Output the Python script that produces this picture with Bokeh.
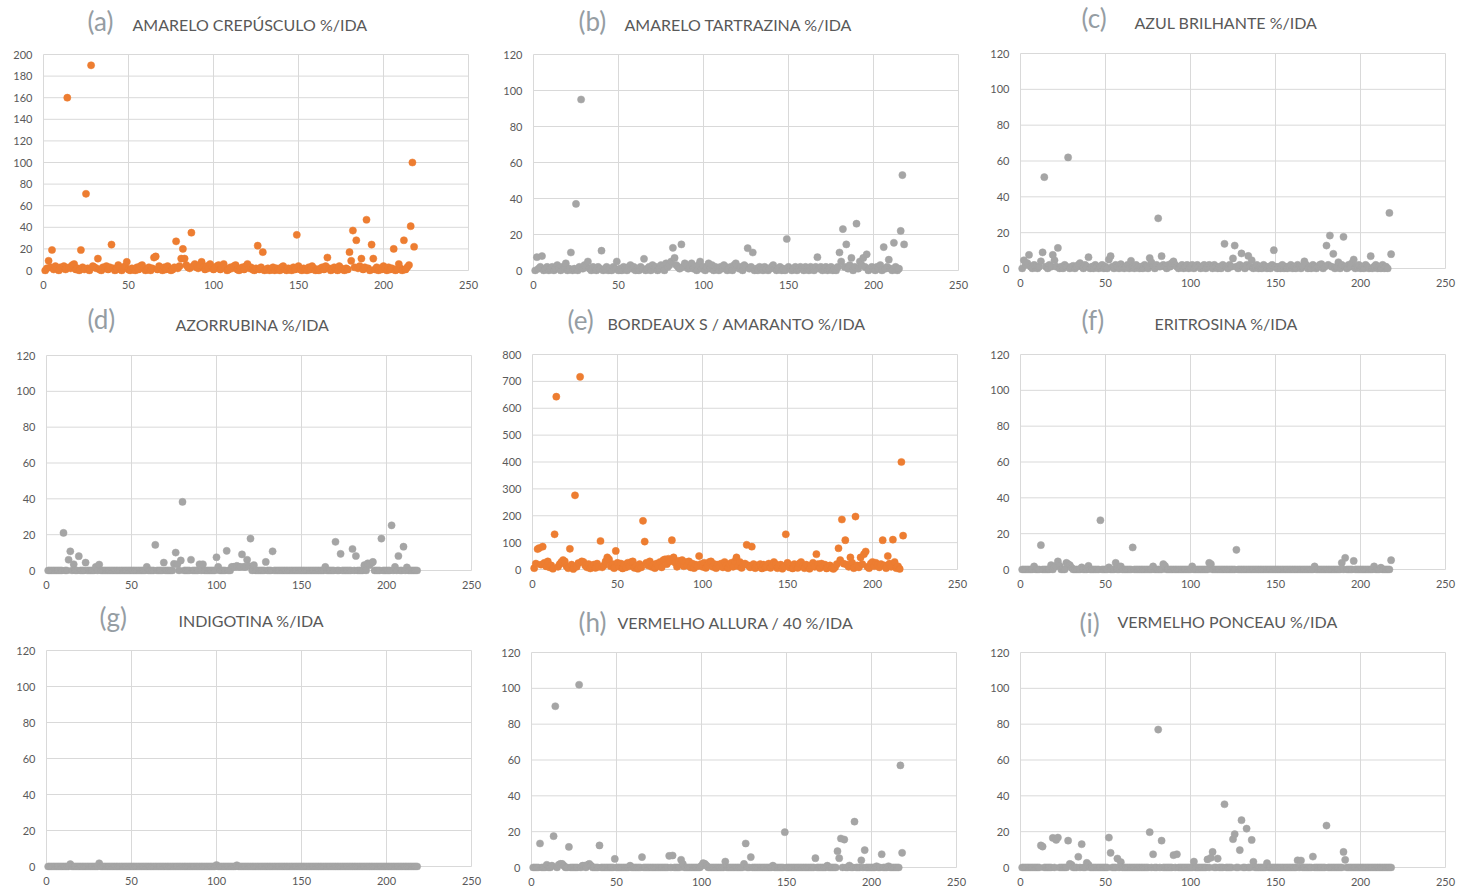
from bokeh.plotting import figure
from bokeh.layouts import column, row
from bokeh.models import Range1d, FixedTicker, Label
from bokeh.embed import file_html
from bokeh.resources import INLINE

# ---------------- data ----------------
panel_letters = ["(a)", "(b)", "(c)", "(d)", "(e)", "(f)", "(g)", "(h)", "(i)"]
panel_names = [
    "AMARELO  CREPÚSCULO  %/IDA",
    "AMARELO  TARTRAZINA  %/IDA",
    "AZUL BRILHANTE %/IDA",
    "AZORRUBINA %/IDA",
    "BORDEAUX S / AMARANTO %/IDA",
    "ERITROSINA %/IDA",
    "INDIGOTINA %/IDA",
    "VERMELHO ALLURA / 40 %/IDA",
    "VERMELHO  PONCEAU  %/IDA",
]
y_max = [200, 120, 120, 120, 800, 120, 120, 120, 120]
y_step = [20, 20, 20, 20, 100, 20, 20, 20, 20]
x_ticks = [0, 50, 100, 150, 200, 250]
panel_color_names = ["orange", "gray", "gray", "gray", "orange", "gray", "gray", "gray", "gray"]

amarelo_crepusculo = [
    0, 2, 9, 3, 19, 1, 4, 2, 0, 3,
    2, 4, 1, 160, 3, 2, 5, 6, 1, 2,
    0, 19, 3, 1, 71, 2, 0, 190, 4, 3,
    2, 11, 1, 0, 3, 2, 4, 1, 3, 24,
    2, 0, 1, 5, 3, 0, 2, 4, 8, 1,
    0, 2, 1, 0, 3, 1, 4, 5, 2, 0,
    1, 3, 0, 2, 12, 13, 1, 4, 2, 0,
    3, 1, 4, 2, 0, 1, 3, 27, 2, 4,
    11, 20, 11, 5, 3, 2, 35, 4, 6, 3,
    2, 5, 8, 3, 1, 4, 2, 6, 3, 1,
    2, 4, 5, 1, 3, 6, 2, 0, 1, 3,
    2, 4, 5, 1, 0, 2, 3, 1, 4, 6,
    2, 3, 1, 0, 2, 23, 1, 3, 17, 0,
    1, 2, 0, 1, 3, 0, 2, 1, 0, 3,
    4, 1, 0, 2, 1, 0, 3, 1, 33, 4,
    1, 0, 2, 1, 0, 3, 1, 4, 2, 0,
    1, 0, 2, 3, 1, 4, 12, 2, 0, 1,
    3, 1, 0, 4, 2, 1, 0, 2, 1, 17,
    9, 37, 3, 28, 2, 4, 11, 1, 3, 47,
    2, 0, 24, 11, 1, 3, 0, 2, 1, 4,
    2, 0, 3, 1, 2, 20, 0, 1, 6, 2,
    0, 28, 1, 3, 5, 41, 100, 22,
]

amarelo_tartrazina = [
    0, 7.4, 1, 2, 8, 0, 1, 2, 0, 1,
    2, 0, 1, 3, 1, 0, 2, 1, 4, 0,
    1, 10, 0, 1, 37, 0, 2, 95, 1, 3,
    2, 5, 1, 0, 2, 1, 0, 2, 1, 11,
    0, 1, 2, 0, 1, 0, 2, 1, 5, 0,
    1, 0, 2, 1, 0, 2, 3, 1, 2, 0,
    1, 0, 2, 1, 6.5, 0, 1, 2, 0, 3,
    1, 2, 0, 1, 3, 2, 0, 4, 2, 3,
    5, 12.6, 7, 3, 2, 1, 14.5, 2, 4, 3,
    1, 2, 4, 1, 2, 0, 3, 5, 1, 2,
    0, 2, 4, 1, 3, 0, 2, 1, 0, 2,
    1, 3, 2, 0, 1, 2, 0, 3, 4, 2,
    1, 2, 0, 3, 2, 12.4, 1, 2, 10, 0,
    1, 0, 2, 1, 0, 2, 1, 0, 1, 2,
    3, 1, 0, 1, 2, 0, 1, 0, 17.5, 2,
    1, 0, 1, 2, 0, 1, 2, 1, 0, 2,
    1, 0, 2, 1, 0, 2, 7.4, 1, 2, 0,
    1, 2, 0, 1, 2, 0, 1, 0, 2, 10,
    5, 23, 2, 14.5, 1, 3, 7, 0, 2, 26,
    1, 5, 3, 7, 2, 9, 0, 1, 2, 1,
    0, 2, 1, 3, 0, 13, 1, 2, 6, 1,
    0, 15.4, 2, 0, 1, 22, 53, 14.5,
]

azul_brilhante = [
    0, 4.6, 2, 3, 7.6, 1, 0, 2, 1, 0,
    1, 4, 9, 51, 1, 0, 2, 1, 7.6, 4.6,
    1, 11.5, 0, 1, 0, 2, 1, 62, 0, 1,
    1.5, 0, 1, 2, 3, 1, 0, 2, 1, 6.3,
    0, 1, 0, 2, 1, 0, 1, 2, 0, 1,
    0, 5, 6.9, 1, 0, 2, 1, 0, 2.4, 1,
    0, 1, 2, 0, 4.3, 1, 0, 2, 1, 0,
    1, 0, 2, 1, 0, 5.8, 3.5, 1, 0, 2,
    28, 1, 6.9, 2, 1, 0, 2, 1, 3, 4,
    2, 1, 0, 1, 2, 0, 1, 2, 0, 1,
    2, 0, 1, 2, 1, 0, 1, 2, 0, 1,
    2, 1, 0, 2, 1, 0, 1, 0, 2, 13.8,
    1, 0, 2, 1, 5.6, 12.8, 1, 0, 2, 8.4,
    1, 0, 2, 7, 1, 4.6, 0, 1, 2, 0,
    1, 0, 2, 1, 0, 1, 0, 2, 10.2, 1,
    0, 1, 0, 2, 0, 1, 0, 1, 2, 0,
    1, 0, 2, 1, 0, 1, 4, 2, 0, 1,
    0, 2, 1, 0, 1, 2, 2.4, 0, 1, 12.8,
    2, 18.4, 1, 8.2, 0, 1, 3.5, 0, 2, 17.7,
    1, 0, 2, 1, 3, 5, 0, 1, 2, 0,
    1, 0, 2, 1, 0, 6.9, 0, 1, 2, 0,
    1, 0, 2, 0, 1, 0, 31, 8,
]

azorrubina = [
    0, 0, 0, 0, 0, 0, 0, 0, 0, 21,
    0, 0, 6, 10.7, 0, 3.5, 0, 0, 8, 0,
    0, 0, 4.4, 0, 0, 0, 0, 0, 2, 0,
    3.3, 0, 0, 0, 0, 0, 0, 0, 0, 0,
    0, 0, 0, 0, 0, 0, 0, 0, 0, 0,
    0, 0, 0, 0, 0, 0, 0, 0, 2, 0,
    0, 0, 0, 14.3, 0, 0, 0, 0, 4.4, 0,
    0, 0, 0, 0, 3.7, 10, 3.5, 0, 5.6, 38.3,
    0, 0, 0, 0, 6, 0, 0, 0, 0, 3.5,
    0, 3.5, 0, 0, 0, 0, 0, 0, 0, 7.4,
    2, 0, 0, 0, 0, 11, 0, 0, 2, 2,
    2, 2.6, 2, 2, 9, 2, 2, 6, 2.5, 17.8,
    0, 3, 0, 0, 0, 0, 0, 0, 4.8, 0,
    0, 0, 10.7, 0, 0, 0, 0, 0, 0, 0,
    0, 0, 0, 0, 0, 0, 0, 0, 0, 0,
    0, 0, 0, 0, 0, 0, 0, 0, 0, 0,
    0, 0, 0, 2, 0, 0, 0, 0, 0, 16,
    0, 0, 9.3, 0, 0, 0, 0, 0, 0, 12,
    0, 8.1, 0, 0, 0, 0, 3, 0, 4, 3,
    4, 4.8, 0, 0, 0, 0, 17.8, 0, 0, 0,
    0, 0, 25.2, 0, 2, 0, 8.1, 0, 0, 13.3,
    0, 1.7, 0, 0, 0, 0, 0, 0,
]

bordeaux_amaranto = [
    5, 22, 76, 80, 18, 85, 25, 12, 30, 8,
    15, 3, 131, 643, 10, 20, 28, 35, 30, 12,
    5, 77, 18, 2, 276, 10, 24, 717, 30, 28,
    15, 8, 20, 4, 12, 18, 6, 22, 10, 106,
    8, 15, 30, 45, 38, 12, 20, 5, 69, 25,
    10, 22, 4, 18, 8, 25, 12, 28, 30, 6,
    14, 3, 20, 8, 181, 104, 25, 15, 30, 10,
    18, 5, 22, 12, 28, 8, 35, 38, 20, 40,
    30, 109, 45, 25, 10, 32, 20, 35, 12, 28,
    15, 30, 8, 22, 5, 18, 12, 50, 20, 10,
    25, 6, 15, 28, 30, 10, 20, 5, 18, 12,
    22, 8, 28, 15, 5, 20, 25, 10, 30, 45,
    12, 28, 6, 18, 22, 92, 15, 8, 85, 20,
    5, 15, 10, 20, 4, 18, 8, 12, 22, 6,
    15, 28, 20, 5, 10, 18, 3, 12, 131, 25,
    8, 15, 4, 20, 10, 6, 22, 28, 12, 5,
    18, 8, 3, 15, 25, 10, 57, 20, 5, 22,
    12, 18, 4, 10, 15, 6, 2, 8, 20, 79,
    35, 186, 22, 109, 18, 10, 45, 25, 5, 197,
    15, 8, 45, 20, 57, 67, 10, 5, 22, 28,
    12, 25, 18, 8, 20, 109, 15, 5, 50, 22,
    10, 111, 28, 5, 12, 2, 400, 126,
]

eritrosina = [
    0, 0, 0, 0, 0, 0, 0, 1.7, 0, 0,
    0, 13.6, 0, 0, 0, 0, 0, 2.4, 0, 1.5,
    2, 4.5, 2, 0, 0, 0, 3.7, 3, 2.4, 1,
    0, 0, 0, 0, 0, 1.2, 0, 0, 0, 2,
    0, 0, 0, 0, 0, 0, 27.5, 0, 0, 0,
    0, 1.2, 0, 0, 0, 3.7, 0, 0, 1.7, 0,
    0, 0, 0, 0, 0, 12.3, 0, 0, 0, 0,
    0, 0, 0, 0, 0, 0, 0, 1.7, 0, 0,
    0, 0, 0, 3, 2, 0, 0, 0, 0, 0,
    0, 0, 0, 0, 0, 0, 0, 0, 0, 0,
    1.7, 0, 0, 0, 0, 0, 0, 0, 0, 0,
    3.7, 3, 0, 0, 0, 0, 0, 0, 0, 0,
    0, 0, 0, 0, 0, 0, 11, 0, 0, 0,
    0, 0, 0, 0, 0, 0, 0, 0, 0, 0,
    0, 0, 0, 0, 0, 0, 0, 0, 0, 0,
    0, 0, 0, 0, 0, 0, 0, 0, 0, 0,
    0, 0, 0, 0, 0, 0, 0, 0, 0, 0,
    0, 0, 1.7, 0, 0, 0, 0, 0, 0, 0,
    0, 0, 0, 0, 0, 0, 0, 0, 3.7, 0,
    6.5, 0, 0, 0, 0, 4.8, 0, 0, 0, 0,
    0, 0, 0, 0, 0, 0, 0, 1.7, 0, 0,
    0, 1, 0, 0, 0, 0, 0, 5.2,
]

indigotina = [
    0, 0, 0, 0, 0, 0, 0, 0, 0, 0,
    0, 0, 0, 1.3, 0, 0, 0, 0, 0, 0,
    0, 0, 0, 0, 0, 0, 0, 0, 0, 0,
    1.8, 0, 0, 0, 0, 0, 0, 0, 0, 0,
    0, 0, 0, 0, 0, 0, 0, 0, 0, 0,
    0, 0, 0, 0, 0, 0, 0, 0, 0, 0,
    0, 0, 0, 0, 0, 0, 0, 0, 0, 0,
    0, 0, 0, 0, 0, 0, 0, 0, 0, 0,
    0, 0, 0, 0, 0, 0, 0, 0, 0, 0,
    0, 0, 0, 0, 0, 0, 0, 0, 0, 0.8,
    0, 0, 0, 0, 0, 0, 0, 0, 0, 0,
    0, 0.7, 0, 0, 0, 0, 0, 0, 0, 0,
    0, 0, 0, 0, 0, 0, 0, 0, 0, 0,
    0, 0, 0, 0, 0, 0, 0, 0, 0, 0,
    0, 0, 0, 0, 0, 0, 0, 0, 0, 0,
    0, 0, 0, 0, 0, 0, 0, 0, 0, 0,
    0, 0, 0, 0, 0, 0, 0, 0, 0, 0,
    0, 0, 0, 0, 0, 0, 0, 0, 0, 0,
    0, 0, 0, 0, 0, 0, 0, 0, 0, 0,
    0, 0, 0, 0, 0, 0, 0, 0, 0, 0,
    0, 0, 0, 0, 0, 0, 0, 0, 0, 0,
    0, 0, 0, 0, 0, 0, 0, 0,
]

vermelho_allura = [
    0, 0, 0, 0, 13.4, 0, 0, 0, 1.5, 0,
    0, 1, 17.5, 90, 0, 1.5, 2, 2, 1, 0,
    0, 11.5, 0, 0, 0, 0, 0, 102, 0, 1,
    1, 0, 1.5, 2, 1, 0, 0, 0, 0, 12.3,
    0, 0, 0, 0, 0, 0, 0, 0, 4.8, 0,
    0, 0, 0, 0, 0, 0, 0, 1, 0, 0,
    0, 0, 0, 0, 5.8, 0, 0, 0, 0, 0,
    0, 0, 0, 0, 0, 0, 0, 0, 0, 0,
    6.5, 0, 6.7, 0, 0, 0, 0, 4.3, 2, 0,
    0, 0, 0, 0, 0, 0, 0, 0, 0, 1,
    2.4, 2, 1, 0, 0, 0, 0, 0, 0, 0,
    0, 0, 0, 3.3, 0, 0, 0, 0, 0, 0,
    0, 0, 0, 0, 2, 13.4, 0, 0, 5.8, 0,
    0, 0, 0, 0, 0, 0, 0, 0, 0, 0,
    0, 1, 0, 0, 0, 0, 0, 0, 19.7, 0,
    0, 0, 0, 0, 0, 0, 0, 0, 0, 0,
    0, 0, 0, 0, 0, 0, 5.2, 0, 0, 0,
    0, 0, 0, 1, 0, 0, 0, 0, 0, 9.1,
    5.2, 16.2, 0, 15.6, 0, 0, 1.1, 0, 0, 25.6,
    0, 0, 0, 4, 0, 9.7, 0, 0, 0, 0,
    0, 0, 0.7, 0, 0, 7.4, 0, 0, 0, 0.7,
    0, 0, 0, 0, 0, 0, 57, 8.2,
]

vermelho_ponceau = [
    0, 0, 0, 0, 0, 0, 0, 0, 0, 0,
    0, 12.3, 11.7, 0, 0, 0, 0, 0, 16.5, 0,
    15.4, 16.7, 0, 0, 0, 0, 0, 15, 2, 1.5,
    0, 0, 0, 6, 0, 13, 0, 0, 2.6, 1.5,
    0, 0, 0, 0, 0, 0, 0, 0, 0, 0,
    0, 16.7, 8.2, 0, 0, 0, 5, 0, 3, 0,
    0, 0, 0, 0, 0, 0, 0, 0, 0, 0,
    0, 0, 0, 0, 0, 19.7, 0, 7.4, 0, 0,
    77, 0, 15, 0, 0, 0, 0, 0, 0, 6.9,
    0, 7.4, 0, 0, 0, 0, 0, 0, 0, 0,
    0, 3.3, 0, 0, 0, 0, 0, 0, 0, 4.5,
    0, 5.4, 8.7, 0, 0, 5, 0, 0, 0, 35.3,
    0, 0, 0, 0, 15.8, 18.6, 0, 0, 9.7, 26.4,
    0, 0, 21.7, 0, 0, 15.4, 3.2, 0, 0, 0,
    0, 0, 0, 0, 2.4, 0, 0, 0, 0, 0,
    0, 0, 0, 0, 0, 0, 0, 0, 0, 0,
    0, 0, 4, 0, 3.9, 0, 0, 0, 0, 0,
    0, 6.1, 0, 0, 0, 0, 0, 0, 0, 23.4,
    0, 0, 0, 0, 0, 0, 0, 0, 0, 8.7,
    4.3, 0, 0, 0, 0, 0, 0, 0, 0, 0,
    0, 0, 0, 0, 0, 0, 0, 0, 0, 0,
    0, 0, 0, 0, 0, 0, 0, 0,
]

series = [amarelo_crepusculo, amarelo_tartrazina, azul_brilhante, azorrubina,
          bordeaux_amaranto, eritrosina, indigotina, vermelho_allura, vermelho_ponceau]

# ---------------- styling / layout ----------------
COLORS = {"orange": "#ED7D31", "gray": "#A5A5A5"}
GRID = "#d9d9d9"
TICK_COLOR = "#595959"
NAME_COLOR = "#595959"
LETTER_COLOR = "#959da3"
FONT = "Lato"

# page pixel positions of each panel: x of the 0 line, y of the top line, y of the 0 line
X0 = [43, 533, 1020, 46, 532, 1020, 46, 531, 1020]
YT = [54, 54, 53, 355, 354, 354, 650, 652, 652]
Y0 = [270, 270, 268, 570, 569, 569, 866, 867, 867]
col_start = [0, 488, 976]
col_width = [488, 488, 484]
row_start = [0, 300, 600]
row_height = [300, 300, 291]
# title offsets in px: (right of 0 line, above top line)
letter_off = [(44, 34), (45, 34), (61, 36), (41, 37), (35, 35), (61, 35), (53, 34), (47, 31), (59, 30)]
name_off = [(89, 30), (91, 30), (114, 31), (129, 31), (75, 31), (134, 31), (132, 30), (86, 30), (97, 31)]

SPAN_W = 425
PAD_L, PAD_R, PAD_B = 4, 1, 4


def make_panel(i):
    r, c = divmod(i, 3)
    span_h = Y0[i] - YT[i]
    sx = SPAN_W / x_ticks[-1]
    sy = span_h / y_max[i]
    pad_t = YT[i] - row_start[r]          # frame reaches the top of the row, titles sit inside it
    fw = SPAN_W + PAD_L + PAD_R
    fh = span_h + pad_t + PAD_B
    left = X0[i] - col_start[c] - PAD_L
    right = col_width[c] - left - fw
    bottom = row_height[r] - fh

    p = figure(frame_width=fw, frame_height=fh,
               min_border_left=left, min_border_right=right,
               min_border_top=0, min_border_bottom=bottom,
               x_range=Range1d(-PAD_L / sx, x_ticks[-1] + PAD_R / sx),
               y_range=Range1d(-PAD_B / sy, y_max[i] + pad_t / sy),
               output_backend="svg", toolbar_location=None, title=None,
               background_fill_color="white", border_fill_color="white",
               outline_line_color=None)
    p.grid.visible = False

    yt = list(range(0, y_max[i] + 1, y_step[i]))
    # gridlines
    p.segment(x0=x_ticks, y0=[yt[0]] * len(x_ticks), x1=x_ticks, y1=[yt[-1]] * len(x_ticks),
              line_color=GRID, line_width=1)
    p.segment(x0=[x_ticks[0]] * len(yt), y0=yt, x1=[x_ticks[-1]] * len(yt), y1=yt,
              line_color=GRID, line_width=1)

    vals = series[i]
    col = COLORS[panel_color_names[i]]
    p.scatter(x=list(range(1, len(vals) + 1)), y=vals, size=7.2,
              fill_color=col, line_color=col, line_width=0.5)

    for ax in (p.xaxis[0], p.yaxis[0]):
        ax.axis_line_color = None
        ax.major_tick_line_color = None
        ax.minor_tick_line_color = None
        ax.major_tick_out = 0
        ax.major_tick_in = 0
        ax.major_label_text_font = FONT
        ax.major_label_text_font_size = "11px"
        ax.major_label_text_color = TICK_COLOR
    p.xaxis[0].ticker = FixedTicker(ticks=x_ticks)
    p.yaxis[0].ticker = FixedTicker(ticks=yt)
    p.xaxis[0].major_label_standoff = 6
    p.yaxis[0].major_label_standoff = 7

    p.add_layout(Label(x=letter_off[i][0] / sx, y=y_max[i] + letter_off[i][1] / sy,
                       text=panel_letters[i], text_font=FONT, text_font_size="26px",
                       text_color=LETTER_COLOR, text_align="left", text_baseline="middle"))
    p.add_layout(Label(x=name_off[i][0] / sx, y=y_max[i] + name_off[i][1] / sy,
                       text=panel_names[i], text_font=FONT, text_font_size="16px",
                       text_color=NAME_COLOR, text_align="left", text_baseline="middle"))
    return p


panels = [make_panel(i) for i in range(9)]
layout = column(row(*panels[0:3]), row(*panels[3:6]), row(*panels[6:9]))

open("out.html", "w").write(file_html(layout, INLINE))
